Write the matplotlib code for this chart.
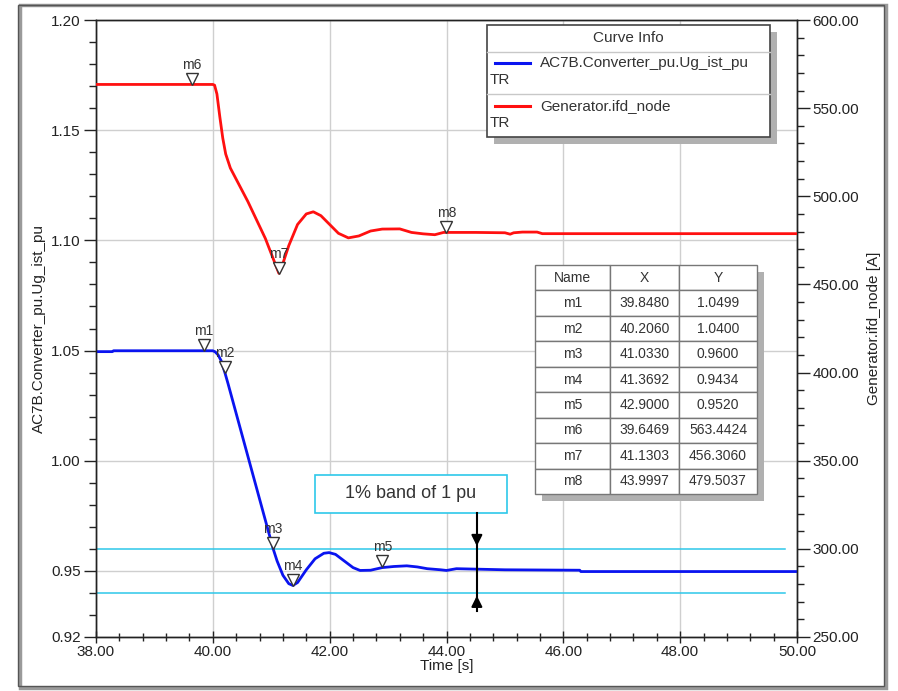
import numpy as np
import matplotlib
matplotlib.use("Agg")
import matplotlib.pyplot as plt
from matplotlib.patches import Rectangle
from matplotlib.ticker import MultipleLocator, FormatStrFormatter
from matplotlib.transforms import offset_copy

plt.rcParams['font.family'] = ['Liberation Sans', 'DejaVu Sans']

# --- data -------------------------------------------------------------
# AC7B.Converter_pu.Ug_ist_pu (left axis)
t_u = [38.0, 38.28, 38.30, 40.0, 40.04, 40.09, 40.14, 40.206, 40.26, 41.033,
       41.1, 41.2, 41.3, 41.3692, 41.45, 41.6, 41.75, 41.9, 41.99, 42.1,
       42.25, 42.4, 42.52, 42.7, 42.9, 43.1, 43.32, 43.5, 43.67, 43.9,
       44.0, 44.17, 44.5, 45.0, 46.28, 46.30, 50.0]
ug = [1.0495, 1.0495, 1.0499, 1.0499, 1.0494, 1.0480, 1.0455, 1.0400, 1.0350, 0.9600,
      0.9545, 0.9480, 0.9442, 0.9434, 0.9447, 0.9505, 0.9555, 0.9580, 0.9583, 0.9575,
      0.9545, 0.9515, 0.9502, 0.9503, 0.9515, 0.9520, 0.9523, 0.9518, 0.9510, 0.9505,
      0.9502, 0.9510, 0.9508, 0.9505, 0.9503, 0.9497, 0.9497]

# Generator.ifd_node (right axis)
t_i = [38.0, 40.0, 40.03, 40.07, 40.12, 40.17, 40.22, 40.3, 40.6, 40.9,
       41.1303, 41.2, 41.3, 41.45, 41.6, 41.72, 41.85, 42.0, 42.15, 42.32,
       42.5, 42.7, 42.9, 43.2, 43.4, 43.6, 43.8, 43.95, 44.0, 44.5,
       45.0, 45.09, 45.15, 45.3, 45.55, 45.64, 50.0]
ifd = [563.44, 563.44, 563.0, 558.0, 545.0, 533.0, 524.0, 516.0, 497.0, 476.0,
       456.31, 462.0, 472.0, 484.0, 490.0, 491.2, 489.0, 484.0, 479.0, 476.4,
       477.5, 480.3, 481.4, 481.5, 479.5, 478.7, 478.2, 479.5, 479.5, 479.5,
       479.3, 478.5, 479.3, 479.7, 479.7, 478.8, 478.8]

band = [0.94, 0.96]

m_names = ['m1', 'm2', 'm3', 'm4', 'm5', 'm6', 'm7', 'm8']
m_x = [39.8480, 40.2060, 41.0330, 41.3692, 42.9000, 39.6469, 41.1303, 43.9997]
m_y = [1.0499, 1.0400, 0.9600, 0.9434, 0.9520, 563.4424, 456.3060, 479.5037]
m_axis = ['u', 'u', 'u', 'u', 'u', 'i', 'i', 'i']

band_x = 44.52
# ----------------------------------------------------------------------

W, H = 898, 691
fig = plt.figure(figsize=(W / 100, H / 100), dpi=100)
ax = fig.add_axes([96 / W, 1 - 637 / H, 701 / W, 617 / H])
ax2 = ax.twinx()

def axc(px, py):
    # pixel -> axes coords
    return (px - 96) / 701, (637 - py) / 617

# outer frame
fig.patches.append(Rectangle((20 / W, 1 - 688 / H), 866 / W, 683 / H, transform=fig.transFigure,
                             fc='none', ec='#9a9a9a', lw=2.5, zorder=0))
fig.patches.append(Rectangle((18 / W, 1 - 686 / H), 866 / W, 681 / H, transform=fig.transFigure,
                             fc='none', ec='#555555', lw=1.0, zorder=0))

ax.plot(t_u, ug, color='#0a14f0', lw=2.0, zorder=3, solid_joinstyle='round')
ax2.plot(t_i, ifd, color='#ff1010', lw=2.0, zorder=3, solid_joinstyle='round')

for b in band:
    ax.plot([38.0, 49.8], [b, b], color='#2ec8ea', lw=1.1, zorder=2)

ax.set_xlim(38, 50)
ax.set_ylim(0.92, 1.20)
ax2.set_ylim(250, 600)

ax.set_yticks([0.92, 0.95, 1.00, 1.05, 1.10, 1.15, 1.20])
ax.yaxis.set_minor_locator(MultipleLocator(0.01))
ax.yaxis.set_major_formatter(FormatStrFormatter('%.2f'))
ax.xaxis.set_major_locator(MultipleLocator(2))
ax.xaxis.set_minor_locator(MultipleLocator(0.4))
ax.xaxis.set_major_formatter(FormatStrFormatter('%.2f'))
ax2.yaxis.set_major_locator(MultipleLocator(50))
ax2.yaxis.set_minor_locator(MultipleLocator(10))
ax2.yaxis.set_major_formatter(FormatStrFormatter('%.2f'))

ax.grid(True, which='major', color='#cfcfcf', lw=1.0)
ax.set_axisbelow(True)
ax.tick_params(axis='y', which='major', length=9, width=1, labelsize=11, pad=2, colors='#222222')
ax.tick_params(axis='y', which='minor', length=5, width=1, color='#222222')
ax.tick_params(axis='x', which='major', direction='inout', length=9, width=1, labelsize=11, pad=1, colors='#222222')
ax.tick_params(axis='x', which='minor', direction='inout', length=6, width=1, color='#222222')
ax2.tick_params(axis='y', which='major', length=9, width=1, labelsize=11, pad=2, colors='#222222')
ax2.tick_params(axis='y', which='minor', length=5, width=1, color='#222222')
for a in (ax, ax2):
    for s in a.spines.values():
        s.set_color('#222222')
        s.set_linewidth(1.0)

ax.set_xlabel('Time [s]', fontsize=11, labelpad=0, color='#222222')
ax.set_ylabel('AC7B.Converter_pu.Ug_ist_pu', fontsize=11, labelpad=4, color='#222222')
ax2.set_ylabel('Generator.ifd_node [A]', fontsize=11, labelpad=6, color='#222222')

# markers
for name, mx, my, which in zip(m_names, m_x, m_y, m_axis):
    a = ax if which == 'u' else ax2
    tr = offset_copy(a.transData, fig=fig, y=4, units='points')
    a.plot([mx], [my], marker='v', ms=8, mfc='white', mec='#333333', mew=1.0,
           transform=tr, zorder=5, ls='none')
    a.annotate(name, (mx, my), xytext=(0, 9), textcoords='offset points',
               ha='center', va='bottom', fontsize=10, color='#333333', zorder=6)

# 1% band annotation
ax.add_patch(Rectangle((41.75, 0.9764), 3.285, 0.0173, fc='white', ec='#2ec8ea', lw=1.2, zorder=6))
ax.text(43.39, 0.9851, '1% band of 1 pu', ha='center', va='center', fontsize=13,
        color='#333333', zorder=7)
ax.plot([band_x, band_x], [0.9764, 0.9317], color='black', lw=1.5, zorder=6)
ax.annotate('', xy=(band_x, band[1]), xytext=(band_x, band[1] + 0.006),
            arrowprops=dict(arrowstyle='-|>', color='black', lw=1.5, mutation_scale=16), zorder=7)
ax.annotate('', xy=(band_x, band[0]), xytext=(band_x, band[0] - 0.007),
            arrowprops=dict(arrowstyle='-|>', color='black', lw=1.5, mutation_scale=16), zorder=7)

# curve info box
x0, y1 = axc(487, 25)
x1, y0 = axc(770, 137)
sx, sy = axc(494, 32)
ax2.add_patch(Rectangle((x0 + (sx - x0), y0 - (y1 - sy)), x1 - x0, y1 - y0, transform=ax2.transAxes,
                        fc='#b0b0b0', ec='none', zorder=8))
ax2.add_patch(Rectangle((x0, y0), x1 - x0, y1 - y0, transform=ax2.transAxes,
                        fc='white', ec='#444444', lw=1.2, zorder=9))
for py in (52, 94):
    ax2.plot([x0, x1], [axc(0, py)[1]] * 2, transform=ax2.transAxes, color='#c8c8c8', lw=1.0, zorder=10)
ax2.text((x0 + x1) / 2, axc(0, 38)[1], 'Curve Info', transform=ax2.transAxes, ha='center',
         va='center', fontsize=11, color='#333333', zorder=10)
for col, lab, py in [('#0a14f0', 'AC7B.Converter_pu.Ug_ist_pu', 63), ('#ff1010', 'Generator.ifd_node', 106)]:
    ax2.plot([axc(495, 0)[0], axc(530, 0)[0]], [axc(0, py)[1]] * 2, transform=ax2.transAxes,
             color=col, lw=2.2, zorder=10)
    ax2.text(axc(540, 0)[0], axc(0, py)[1], lab, transform=ax2.transAxes, ha='left', va='center',
             fontsize=11, color='#333333', zorder=10)
    ax2.text(axc(490, 0)[0], axc(0, py + 17)[1], 'TR', transform=ax2.transAxes, ha='left', va='center',
             fontsize=11, color='#333333', zorder=10)

# marker table
cells = [[n, '%.4f' % x, '%.4f' % y] for n, x, y in zip(m_names, m_x, m_y)]
tx0, ty1 = axc(535, 265)
tx1, ty0 = axc(757, 494)
sx, sy = axc(542, 272)
ax2.add_patch(Rectangle((sx, ty0 - (ty1 - sy)), tx1 - tx0, ty1 - ty0, transform=ax2.transAxes,
                        fc='#b0b0b0', ec='none', zorder=8))
tbl = ax2.table(cellText=cells, colLabels=['Name', 'X', 'Y'], cellLoc='center',
                bbox=[tx0, ty0, tx1 - tx0, ty1 - ty0], colWidths=[75, 69, 78], zorder=9)
tbl.auto_set_font_size(False)
tbl.set_fontsize(10)
for (r, c), cell in tbl.get_celld().items():
    cell.set_edgecolor('#777777')
    cell.set_linewidth(1.0)
    cell.set_facecolor('white')
    cell.get_text().set_color('#333333')

fig.savefig('out.png', dpi=100)
